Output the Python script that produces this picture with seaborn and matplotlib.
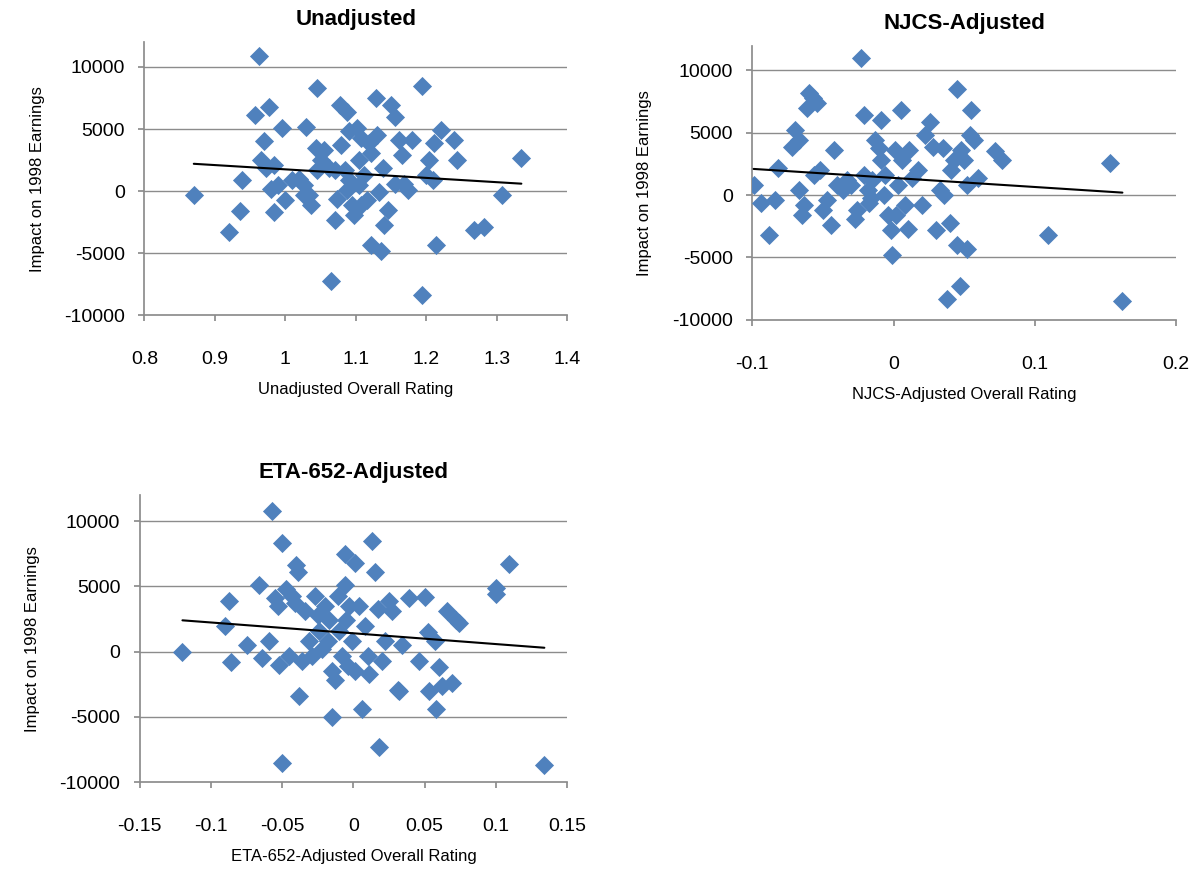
import matplotlib
matplotlib.use("Agg")
import matplotlib.pyplot as plt
import pandas as pd
import seaborn as sns

sns.set_theme(style="white")
plt.rcParams["font.family"] = ["Liberation Sans", "DejaVu Sans"]
plt.rcParams["axes.unicode_minus"] = False

# ---- Unadjusted
unadj_x = [0.871, 0.92, 0.935, 0.939, 0.962, 0.957, 0.977, 0.97, 0.966, 0.973, 0.984, 0.99, 0.995, 0.984,
           0.999, 0.98, 1.009, 1.02, 1.027, 1.03, 1.034, 1.037, 1.045, 1.051, 1.043, 1.055, 1.062, 1.045,
           1.065, 1.071, 1.074, 1.078, 1.087, 1.079, 1.091, 1.088, 1.094, 1.098, 1.102, 1.105, 1.108, 1.112,
           1.116, 1.119, 1.122, 1.128, 1.13, 1.133, 1.136, 1.122, 1.14, 1.138, 1.145, 1.15, 1.156, 1.162,
           1.155, 1.165, 1.169, 1.174, 1.18, 1.194, 1.194, 1.2, 1.204, 1.209, 1.211, 1.214, 1.221, 1.24,
           1.243, 1.268, 1.282, 1.308, 1.335, 1.09, 1.084, 1.105, 1.07, 1.108, 1.027]
unadj_y = [-300, -3300, -1600, 900, 10900, 6100, 6800, 4000, 2500, 1900, 2100, 500, 5100, -1700,
           -700, 200, 900, 1000, 500, 5200, -300, -1100, 8300, 2500, 3500, 3300, 1900, 1700,
           -7200, -2300, -600, 6900, 6400, 3700, 900, 100, -1100, -1900, 5100, 2500, 4300, 1300,
           -700, 3900, 3100, 7500, 4500, -100, -4800, -4300, -2700, 1900, -1500, 6900, 6000, 4100,
           600, 2900, 600, 100, 4100, 8500, -8400, 1300, 2500, 900, 3900, -4300, 4900, 4100,
           2500, -3100, -2900, -300, 2700, 4800, 1700, 500, 1700, -1100, -300]
unadj_fit_x = [0.87, 1.335]
unadj_fit_y = [2200, 600]

# ---- NJCS-Adjusted
njcs_x = [-0.099, -0.094, -0.088, -0.084, -0.082, -0.07, -0.072, -0.067, -0.067, -0.065, -0.063, -0.061,
          -0.06, -0.057, -0.054, -0.056, -0.052, -0.05, -0.047, -0.044, -0.042, -0.04, -0.036, -0.033,
          -0.03, -0.027, -0.026, -0.023, -0.021, -0.021, -0.018, -0.017, -0.015, -0.013, -0.01, -0.009,
          -0.007, -0.006, -0.004, -0.002, -0.001, 0.001, 0.003, 0.005, 0.006, 0.008, 0.01, 0.011, 0.013,
          0.017, 0.02, 0.022, 0.026, 0.028, 0.03, 0.033, 0.035, 0.036, 0.038, 0.04, 0.041, 0.043, 0.045,
          0.045, 0.047, 0.048, 0.05, 0.052, 0.052, 0.054, 0.055, 0.057, 0.06, 0.072, 0.077, 0.109, 0.153,
          0.162, -0.009, -0.016, 0.002]
njcs_y = [800, -600, -3200, -400, 2200, 5200, 3900, 4400, 400, -1600, -800, 7000,
          8200, 7800, 7400, 1600, 2000, -1200, -400, -2400, 3600, 800, 400, 1200,
          800, -1900, -1200, 11000, 6400, 1600, 400, -600, 1200, 4400, 3800, 6000,
          0, 1600, -1600, -2800, -4800, 3600, 800, 6800, 2800, -800, -2700, 3600, 1400,
          2000, -800, 4800, 5900, 3900, -2800, 400, 3800, 0, -8300, -2200, 2000, 2800, 8500,
          -4000, -7300, 3600, 2800, 800, -4300, 4800, 6800, 4400, 1400, 3500, 2800, -3200, 2600,
          -8500, 2800, -200, -1600]
njcs_fit_x = [-0.099, 0.162]
njcs_fit_y = [2100, 200]

# ---- ETA-652-Adjusted
eta_x = [-0.12, -0.09, -0.087, -0.086, -0.075, -0.066, -0.064, -0.059, -0.057, -0.055, -0.053, -0.052,
         -0.05, -0.05, -0.047, -0.045, -0.043, -0.041, -0.04, -0.039, -0.038, -0.036, -0.034, -0.031,
         -0.029, -0.027, -0.025, -0.024, -0.022, -0.02, -0.018, -0.015, -0.015, -0.013, -0.011, -0.01,
         -0.008, -0.006, -0.006, -0.004, -0.003, -0.001, 0.001, 0.001, 0.004, 0.006, 0.008, 0.01, 0.011,
         0.013, 0.015, 0.017, 0.018, 0.02, 0.022, 0.025, 0.027, 0.031, 0.032, 0.034, 0.039, 0.046, 0.05,
         0.052, 0.053, 0.057, 0.058, 0.06, 0.062, 0.066, 0.069, 0.072, 0.074, 0.1, 0.1, 0.109, 0.134,
         -0.017, -0.005]
eta_y = [0, 2000, 3900, -800, 500, 5100, -500, 800, 10800, 4100, 3500, -1000,
         8300, -8500, 4800, -300, 4300, 3700, 6600, 6100, -3400, -700, 3100, 800,
         -300, 4300, 2800, 1600, 200, 3500, 800, -5000, -1500, -2200, 4300, 1600,
         -300, 5100, 7500, -1100, 3500, 800, 6800, -1500, 3500, -4400, 2000, -300, -1700,
         8500, 6100, 3300, -7300, -700, 800, 3900, 3100, -2900, -3000, 500, 4100, -700, 4200,
         1500, -3000, 800, -4400, -1200, -2600, 3100, -2400, 2400, 2200, 4400, 4900, 6700, -8700,
         2400, 2400]
eta_fit_x = [-0.12, 0.134]
eta_fit_y = [2400, 300]

BLUE = "#4F81BD"
fig = plt.figure(figsize=(11.94, 8.76), dpi=100)
panels = [
    ([0.121, 0.640, 0.354, 0.312], unadj_x, unadj_y, unadj_fit_x, unadj_fit_y,
     "Unadjusted", "Unadjusted Overall Rating", (0.8, 1.4), [0.8, 0.9, 1, 1.1, 1.2, 1.3, 1.4]),
    ([0.630, 0.635, 0.355, 0.313], njcs_x, njcs_y, njcs_fit_x, njcs_fit_y,
     "NJCS-Adjusted", "NJCS-Adjusted Overall Rating", (-0.1, 0.2), [-0.1, 0, 0.1, 0.2]),
    ([0.117, 0.107, 0.358, 0.328], eta_x, eta_y, eta_fit_x, eta_fit_y,
     "ETA-652-Adjusted", "ETA-652-Adjusted Overall Rating", (-0.15, 0.15),
     [-0.15, -0.1, -0.05, 0, 0.05, 0.1, 0.15]),
]
for rect, xs, ys, fx, fy, title, xlabel, xlim, xticks in panels:
    ax = fig.add_axes(rect)
    df = pd.DataFrame({"x": xs, "y": ys})
    sns.scatterplot(data=df, x="x", y="y", marker="D", s=95, color=BLUE,
                    edgecolor=BLUE, linewidth=0, ax=ax, zorder=3)
    sns.lineplot(x=fx, y=fy, color="black", lw=1.5, ax=ax, zorder=4)
    ax.set_xlim(*xlim)
    ax.set_ylim(-10000, 12000)
    ax.set_xticks(xticks)
    ax.set_xticklabels([f"{t:g}" for t in xticks])
    ax.set_yticks([-10000, -5000, 0, 5000, 10000])
    for v in [-5000, 0, 5000, 10000]:
        ax.axhline(v, color="#8c8c8c", lw=1, zorder=1)
    for s in ["top", "right"]:
        ax.spines[s].set_visible(False)
    for s in ["left", "bottom"]:
        ax.spines[s].set_color("#8c8c8c")
    ax.tick_params(axis="both", labelsize=14, length=4, direction="out",
                   color="#8c8c8c", labelcolor="black", left=True, bottom=True)
    ax.tick_params(axis="x", pad=22)
    ax.tick_params(axis="y", pad=10)
    ax.set_title(title, fontsize=16, fontweight="bold", pad=12, color="black")
    ax.set_xlabel(xlabel, fontsize=12, labelpad=10, color="black")
    ax.set_ylabel("Impact on 1998 Earnings", fontsize=12, color="black", labelpad=14)

fig.savefig("out.png", dpi=100)
